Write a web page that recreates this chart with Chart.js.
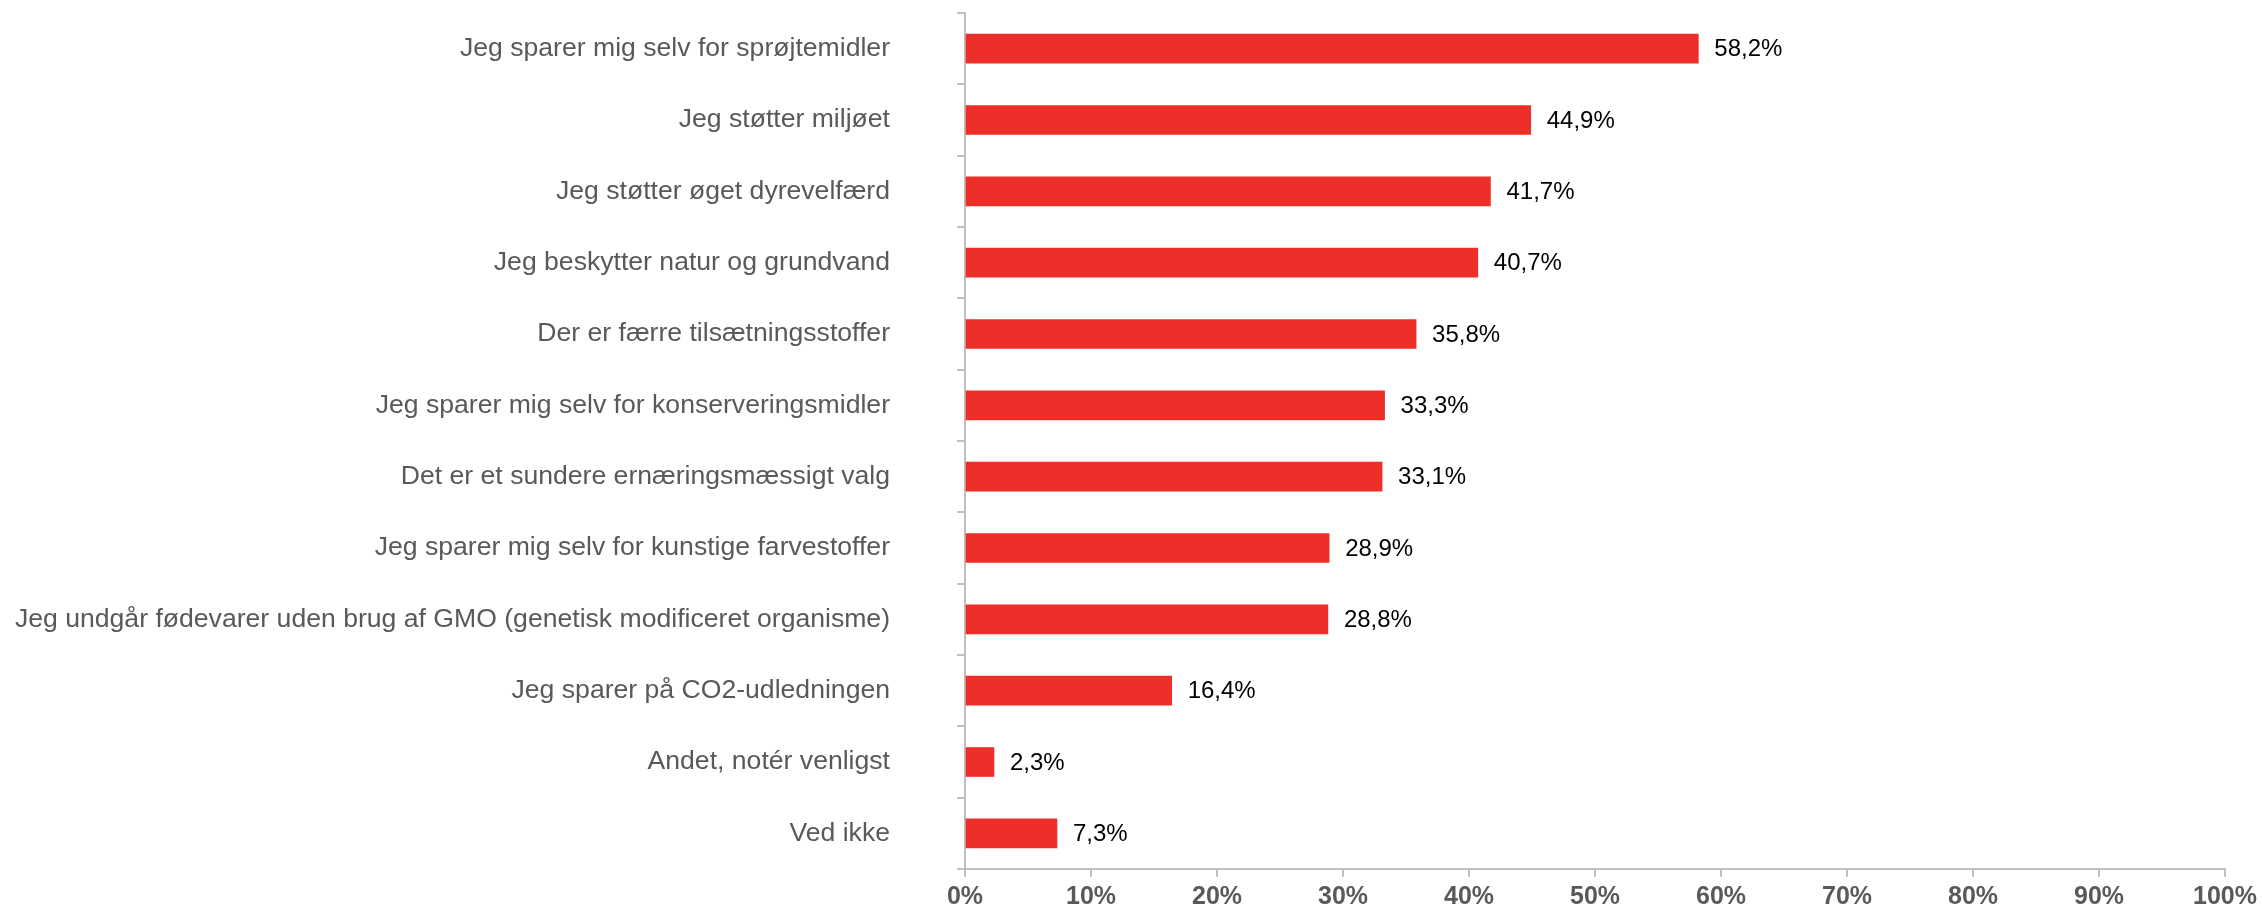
<!DOCTYPE html>
<html>
<head>
<meta charset="utf-8">
<script src="https://cdn.jsdelivr.net/npm/chart.js@4.4.1/dist/chart.umd.min.js"></script>
<style>
    html, body { margin: 0; padding: 0; background: #fff; }
    #wrap { width: 2262px; height: 914px; position: relative; }
</style>
</head>
<body>
<div id="wrap"><canvas id="reasonChart"></canvas></div>
<script>
// Chart data
const categories = [
    'Jeg sparer mig selv for sprøjtemidler',
    'Jeg støtter miljøet',
    'Jeg støtter øget dyrevelfærd',
    'Jeg beskytter natur og grundvand',
    'Der er færre tilsætningsstoffer',
    'Jeg sparer mig selv for konserveringsmidler',
    'Det er et sundere ernæringsmæssigt valg',
    'Jeg sparer mig selv for kunstige farvestoffer',
    'Jeg undgår fødevarer uden brug af GMO (genetisk modificeret organisme)',
    'Jeg sparer på CO2-udledningen',
    'Andet, notér venligst',
    'Ved ikke'
];
const shares = [58.2, 44.9, 41.7, 40.7, 35.8, 33.3, 33.1, 28.9, 28.8, 16.4, 2.3, 7.3];
const xTicks = [0, 10, 20, 30, 40, 50, 60, 70, 80, 90, 100];

const axisGray = '#BFBFBF';
const textGray = '#595959';
const fontFamily = '"Liberation Sans", Arial, sans-serif';

// Draw "58,2%" style labels right of each bar
const valueLabels = {
    id: 'valueLabels',
    afterDatasetsDraw(chart) {
        const ctx = chart.ctx;
        const meta = chart.getDatasetMeta(0);
        ctx.save();
        ctx.font = '24px ' + fontFamily;
        ctx.fillStyle = '#000';
        ctx.textAlign = 'left';
        ctx.textBaseline = 'middle';
        meta.data.forEach((bar, i) => {
            const txt = shares[i].toFixed(1).replace('.', ',') + '%';
            ctx.fillText(txt, bar.x + 16, bar.y + 1);
        });
        ctx.restore();
    }
};

function initializeChart() {
    const ctx = document.getElementById('reasonChart').getContext('2d');
    new Chart(ctx, {
        type: 'bar',
        data: {
            labels: categories,
            datasets: [{
                data: shares,
                backgroundColor: '#EE2E29',
                barThickness: 29
            }]
        },
        options: {
            indexAxis: 'y',
            responsive: true,
            maintainAspectRatio: false,
            animation: false,
            layout: { padding: { top: 13, right: 8, left: 0, bottom: 0 } },
            plugins: {
                legend: { display: false },
                tooltip: { enabled: false }
            },
            scales: {
                x: {
                    min: 0,
                    max: 100,
                    afterBuildTicks: scale => {
                        scale.ticks = xTicks.map(v => ({ value: v }));
                    },
                    afterFit: scale => { scale.height = 45; },
                    border: { color: axisGray, width: 2 },
                    grid: { drawOnChartArea: false, color: axisGray, lineWidth: 2, tickLength: 8 },
                    ticks: {
                        color: textGray,
                        padding: 5,
                        font: { family: fontFamily, size: 25, weight: 'bold' },
                        callback: v => v + '%'
                    }
                },
                y: {
                    afterFit: scale => {
                        scale.width = 965;
                        scale.paddingTop = 0;
                        scale.paddingBottom = 0;
                    },
                    border: { color: axisGray, width: 2 },
                    grid: { offset: true, drawOnChartArea: false, color: axisGray, lineWidth: 2, tickLength: 8 },
                    ticks: {
                        color: textGray,
                        padding: 67,
                        autoSkip: false,
                        font: { family: fontFamily, size: 26.6 }
                    }
                }
            }
        },
        plugins: [valueLabels]
    });
}

document.addEventListener('DOMContentLoaded', initializeChart);
</script>
</body>
</html>
